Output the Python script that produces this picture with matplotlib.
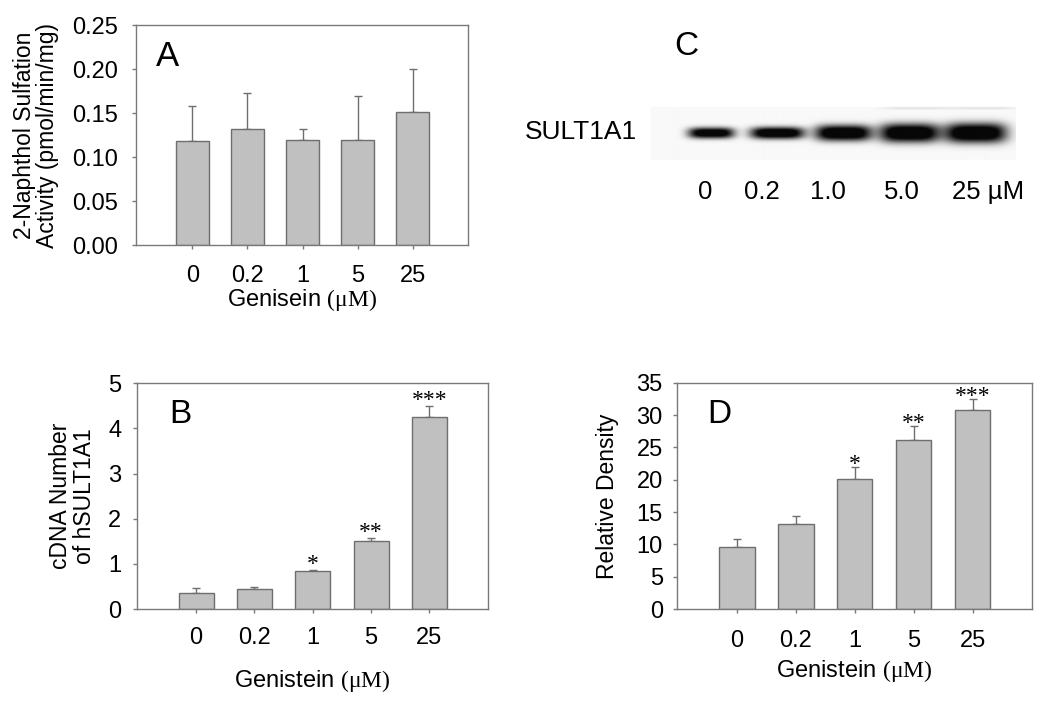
import numpy as np
import matplotlib
matplotlib.use("Agg")
import matplotlib.pyplot as plt

plt.rcParams['font.family'] = ['Liberation Sans', 'DejaVu Sans']
plt.rcParams['mathtext.fontset'] = 'custom'
plt.rcParams['mathtext.rm'] = 'Liberation Serif'
plt.rcParams['mathtext.it'] = 'Liberation Serif:italic'

# ---- data ----
doses = ['0', '0.2', '1', '5', '25']

act_mean = [0.118, 0.132, 0.119, 0.119, 0.151]      # panel A
act_err = [0.040, 0.041, 0.013, 0.050, 0.049]

cdna_mean = [0.36, 0.44, 0.85, 1.51, 4.25]          # panel B
cdna_err = [0.10, 0.05, 0.01, 0.06, 0.24]
cdna_sig = ['', '', '*', '**', '***']

dens_mean = [9.6, 13.1, 20.15, 26.2, 30.8]          # panel D
dens_err = [1.2, 1.3, 1.8, 2.1, 1.7]
dens_sig = ['', '', '*', '**', '***']

lane_labels = ['0', '0.2', '1.0', '5.0', '25 \u00b5M']   # panel C blot
band_strength = [0.95, 1.0, 1.0, 1.0, 1.0]
band_width = [0.70, 0.82, 0.86, 0.91, 0.94]   # lane units
band_height = [5.5, 6.0, 8.0, 9.5, 10.0]      # half height, px

BAR = '#c0c0c0'
EDGE = '#6e6e6e'
SPINE = '#7a7a7a'
FS = 17

fig = plt.figure(figsize=(10.5, 7.06), dpi=100)


def px_axes(x0, y0, x1, y1):
    return fig.add_axes([x0 / 1050, 1 - y1 / 706, (x1 - x0) / 1050, (y1 - y0) / 706])


def bar_panel(ax, mean, err, ylim, yticks, fmt, tick_pad):
    x = np.arange(len(mean))
    ax.bar(x, mean, width=0.6, color=BAR, edgecolor=EDGE, linewidth=1.0, zorder=2)
    ax.errorbar(x, mean, yerr=[np.zeros(len(err)), err], fmt='none',
                ecolor=EDGE, elinewidth=1.0, capsize=3, capthick=1.0, zorder=1)
    ax.set_xlim(-1.02, 5.0)
    ax.set_ylim(*ylim)
    ax.set_yticks(yticks)
    ax.set_yticklabels([fmt.format(v) for v in yticks])
    ax.set_xticks(x)
    ax.set_xticklabels(doses)
    for s in ax.spines.values():
        s.set_color(SPINE)
        s.set_linewidth(1.0)
    ax.tick_params(axis='both', direction='out', length=3, width=1.0, color=SPINE,
                   labelsize=FS)
    ax.tick_params(axis='y', pad=tick_pad[0])
    ax.tick_params(axis='x', pad=tick_pad[1])


def xlab(ax, text, off):
    ax.annotate(text, xy=(0.5, 0), xycoords='axes fraction', xytext=(0, -off),
                textcoords='offset points', ha='center', va='center', fontsize=FS)


def ylab(ax, text, off):
    ax.annotate(text, xy=(0, 0.5), xycoords='axes fraction', xytext=(-off, 0),
                textcoords='offset points', ha='center', va='center', fontsize=16.5,
                rotation=90, linespacing=1.05, multialignment='center')


def stars(ax, mean, err, sig, off):
    for i, s in enumerate(sig):
        if s:
            ax.annotate(s, xy=(i, mean[i] + err[i]), xytext=(0, off),
                        textcoords='offset points', ha='center', va='center',
                        fontsize=17, family='Liberation Serif')


# panel A
axA = px_axes(136, 25, 468, 245)
bar_panel(axA, act_mean, act_err, (0, 0.25), [0, 0.05, 0.10, 0.15, 0.20, 0.25],
          '{:.2f}', (10, 11.5))
xlab(axA, r'Genisein $\mathrm{(\mu M)}$', 39.5)
ylab(axA, '2-Naphthol Sulfation\nActivity (pmol/min/mg)', 72)
axA.text(0.095, 0.855, 'A', transform=axA.transAxes, fontsize=25, ha='center', va='center')

# panel B
axB = px_axes(136.7, 383.3, 487.7, 609)
bar_panel(axB, cdna_mean, cdna_err, (0, 5), [0, 1, 2, 3, 4, 5], '{:.0f}', (8, 10))
stars(axB, cdna_mean, cdna_err, cdna_sig, 4)
xlab(axB, r'Genistein $\mathrm{(\mu M)}$', 52)
ylab(axB, 'cDNA Number\nof hSULT1A1', 46)
axB.text(0.125, 0.86, 'B', transform=axB.transAxes, fontsize=24, ha='center', va='center')

# panel D
axD = px_axes(676.7, 382.7, 1031.7, 609)
bar_panel(axD, dens_mean, dens_err, (0, 35), [0, 5, 10, 15, 20, 25, 30, 35], '{:.0f}', (7, 12))
stars(axD, dens_mean, dens_err, dens_sig, 2)
xlab(axD, r'Genistein $\mathrm{(\mu M)}$', 45)
ylab(axD, 'Relative Density', 50)
axD.text(0.12, 0.86, 'D', transform=axD.transAxes, fontsize=24, ha='center', va='center')

# panel C: western blot
x0, x1 = 645, 1015
lane0, lane_step = 711, 66
axC = px_axes(x0, 100, x1, 165)
xl = ((x0 - lane0) / lane_step, (x1 - lane0) / lane_step)
gx = np.linspace(xl[0], xl[1], 600)
gy = np.linspace(100, 165, 130)
X, Y = np.meshgrid(gx, gy)
dark = np.zeros_like(X)
for i in range(len(band_strength)):
    dx = (X - i) / (band_width[i] / 2)
    dy = (Y - 133) / band_height[i]
    dark += band_strength[i] * np.exp(-np.abs(dx) ** 4) * np.exp(-np.abs(dy) ** 2.5)
for i in (3, 4):
    dx = (X - i - 0.1) / 0.5
    dy = (Y - 108) / 1.2
    dark += 0.08 * np.exp(-np.abs(dx) ** 4) * np.exp(-dy ** 2)
bg = np.where((Y > 107) & (Y < 160) & (X > xl[0] + 0.08), 0.025, 0.0)
img = 1 - np.clip(dark * 1.25 + bg, 0, 1) * 0.97
axC.imshow(img, cmap='gray', vmin=0, vmax=1, aspect='auto', interpolation='bilinear',
           extent=(xl[0], xl[1], 165, 100))
axC.set_xlim(*xl)
axC.set_ylim(165, 100)
axC.axis('off')

fig.text(525 / 1050, 1 - 132 / 706, 'SULT1A1', fontsize=19, ha='left', va='center')
fig.text(686.7 / 1050, 1 - 46.7 / 706, 'C', fontsize=24, ha='center', va='center')
lab_x = [705, 762, 828, 902, 952]
for i, t in enumerate(lane_labels):
    fig.text(lab_x[i] / 1050, 1 - 191.7 / 706, t, fontsize=18.5,
             ha='left' if i == 4 else 'center', va='center')

fig.savefig('out.png', dpi=100)
